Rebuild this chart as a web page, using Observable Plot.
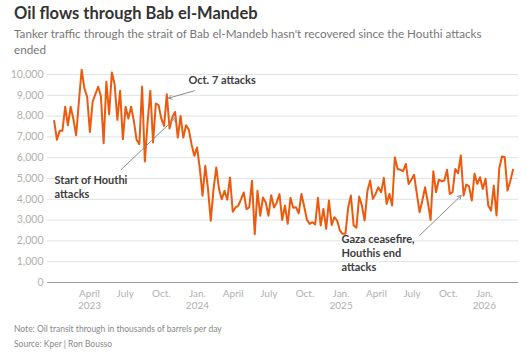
<!DOCTYPE html>
<html>
<head>
<meta charset="utf-8">
<script src="https://cdn.jsdelivr.net/npm/d3@7"></script>
<script src="https://cdn.jsdelivr.net/npm/@observablehq/plot@0.6"></script>
<style>
  html, body { margin: 0; padding: 0; background: #fff; }
  body { width: 532px; height: 353px; position: relative; overflow: hidden; font-family: Lato, "Open Sans", sans-serif; }
  #title { position: absolute; left: 14px; top: 4px; font-size: 16.5px; line-height: 19px; font-weight: 700; color: #333; white-space: nowrap; }
  #subtitle { position: absolute; left: 14px; top: 25px; width: 476px; font-size: 11.7px; line-height: 16px; color: #777; }
  #chart { position: absolute; left: 0; top: 62px; }
  #footer { position: absolute; left: 14px; top: 322px; font-size: 8.5px; line-height: 15px; color: #888; }
</style>
</head>
<body>
<div id="title">Oil flows through Bab el-Mandeb</div>
<div id="subtitle">Tanker traffic through the strait of Bab el-Mandeb hasn't recovered since the Houthi attacks ended</div>
<div id="chart"></div>
<div id="footer">Note: Oil transit through in thousands of barrels per day<br>Source: Kper | Ron Bousso</div>
<script>
// Weekly dates
const dates = [
"2023-01-01","2023-01-08","2023-01-15","2023-01-22","2023-01-29","2023-02-05","2023-02-12","2023-02-19","2023-02-26","2023-03-05","2023-03-12","2023-03-19","2023-03-26","2023-04-02","2023-04-09","2023-04-16","2023-04-23","2023-04-30","2023-05-07","2023-05-14","2023-05-21","2023-05-28","2023-06-04","2023-06-11","2023-06-18","2023-06-25","2023-07-02","2023-07-09","2023-07-16","2023-07-23","2023-07-30","2023-08-06","2023-08-13","2023-08-20","2023-08-27","2023-09-03","2023-09-10","2023-09-17","2023-09-24","2023-10-01","2023-10-08","2023-10-15","2023-10-22","2023-10-29","2023-11-05","2023-11-12","2023-11-19","2023-11-26","2023-12-03","2023-12-10","2023-12-17","2023-12-24","2023-12-31",
"2024-01-07","2024-01-14","2024-01-21","2024-01-28","2024-02-04","2024-02-11","2024-02-18","2024-02-25","2024-03-03","2024-03-10","2024-03-17","2024-03-24","2024-03-31","2024-04-07","2024-04-14","2024-04-21","2024-04-28","2024-05-05","2024-05-12","2024-05-19","2024-05-26","2024-06-02","2024-06-09","2024-06-16","2024-06-23","2024-06-30","2024-07-07","2024-07-14","2024-07-21","2024-07-28","2024-08-04","2024-08-11","2024-08-18","2024-08-25","2024-09-01","2024-09-08","2024-09-15","2024-09-22","2024-09-29","2024-10-06","2024-10-13","2024-10-20","2024-10-27","2024-11-03","2024-11-10","2024-11-17","2024-11-24","2024-12-01","2024-12-08","2024-12-15","2024-12-22","2024-12-29",
"2025-01-05","2025-01-12","2025-01-19","2025-01-26","2025-02-02","2025-02-09","2025-02-16","2025-02-23","2025-03-02","2025-03-09","2025-03-16","2025-03-23","2025-03-30","2025-04-06","2025-04-13","2025-04-20","2025-04-27","2025-05-04","2025-05-11","2025-05-18","2025-05-25","2025-06-01","2025-06-08","2025-06-15","2025-06-22","2025-06-29","2025-07-06","2025-07-13","2025-07-20","2025-07-27","2025-08-03","2025-08-10","2025-08-17","2025-08-24","2025-08-31","2025-09-07","2025-09-14","2025-09-21","2025-09-28","2025-10-05","2025-10-12","2025-10-19","2025-10-26","2025-11-02","2025-11-09","2025-11-16","2025-11-23","2025-11-30","2025-12-07","2025-12-14","2025-12-21","2025-12-28",
"2026-01-04","2026-01-11","2026-01-18","2026-01-25","2026-02-01","2026-02-08","2026-02-15","2026-02-22","2026-03-01","2026-03-08","2026-03-15"
];
// Oil transit, thousands of barrels per day
const flows = [
7770,6860,7290,7290,8450,7560,8450,7850,7080,8700,10230,9330,8930,7240,8690,9050,9410,8970,6700,9650,
8090,10100,9530,7820,9220,6890,8450,7880,8450,7770,6860,6650,9420,5820,7690,9220,6730,8600,8530,7880,
7530,9050,7400,7950,8200,6970,8010,6970,7560,7350,6650,6090,6490,5500,4170,5610,4490,2970,4490,5530,
4490,4000,4410,3980,5050,3400,3610,3690,4000,4330,3530,3610,4890,2320,4410,3210,4090,3850,3210,4200,
3610,3850,4250,3010,3700,2820,4070,3590,3620,3330,4260,3650,3010,2820,2900,2790,4070,2740,3540,2580,
3940,2770,3140,2980,2500,2340,2340,3590,4180,2740,2630,4130,3700,2980,4390,4900,4020,4260,4580,4340,
5030,3780,4260,3700,6020,5460,5420,5350,5700,4740,4940,5180,4260,3380,3940,4580,3860,3010,5350,4340,
4940,4870,4900,5420,4260,4340,5460,5250,6110,4180,4710,4620,3940,5230,4740,5060,4500,4990,3700,3460,
4660,3220,5510,6060,6020,4420,4870,5420
];
const yTicks = [0,1000,2000,3000,4000,5000,6000,7000,8000,9000,10000];
const xTicks = ["2023-04-01","2023-07-01","2023-10-01","2024-01-01","2024-04-01","2024-07-01","2024-10-01","2025-01-01","2025-04-01","2025-07-01","2025-10-01","2026-01-01"];
const xTickLabels = ["April\n2023","July","Oct.","Jan.\n2024","April","July","Oct.","Jan.\n2025","April","July","Oct.","Jan.\n2026"];
const xDomain = ["2022-12-15","2026-03-29"];

const noteDates = ["2023-12-09","2023-01-02","2025-01-02"];
const noteValues = [9760,4615,1442];
const noteTexts = ["Oct. 7 attacks","Start of Houthi\nattacks","Gaza ceasefire,\nHouthis end\nattacks"];

const arrowFromDates = ["2023-12-24","2023-06-21","2025-07-20"];
const arrowFromValues = [9216,5433,2260];
const arrowToDates = ["2023-10-19","2023-11-07","2025-11-03"];
const arrowToValues = [8860,7933,4183];

const data = dates.map((d, i) => ({date: new Date(d), value: flows[i]}));
const notes = noteTexts.map((t, i) => ({date: new Date(noteDates[i]), value: noteValues[i], text: t}));
const arrows = arrowFromDates.map((d, i) => ({x1: new Date(d), y1: arrowFromValues[i], x2: new Date(arrowToDates[i]), y2: arrowToValues[i]}));
const xt = xTicks.map(d => new Date(d));

const chart = Plot.plot({
  width: 532,
  height: 250,
  marginTop: 12,
  marginBottom: 30,
  marginLeft: 47,
  marginRight: 14,
  style: {fontFamily: "Lato, 'Open Sans', sans-serif", background: "#fff", overflow: "visible"},
  x: {type: "utc", domain: xDomain.map(d => new Date(d))},
  y: {domain: [0, 10000]},
  marks: [
    Plot.gridY(yTicks.filter(d => d > 0), {stroke: "#e2e2e2", strokeOpacity: 1, strokeWidth: 1}),
    Plot.ruleY([0], {stroke: "#9a9a9a", strokeWidth: 1.2}),
    Plot.axisY(yTicks, {tickSize: 0, tickPadding: 4, tickFormat: d3.format(","), fill: "#b0b0b0", fontSize: 10.5, label: null}),
    Plot.axisX(xt, {tickSize: 0, tickPadding: 6, tickFormat: (d, i) => xTickLabels[i], fill: "#b0b0b0", fontSize: 10, lineHeight: 1.2, label: null}),
    Plot.lineY(data, {x: "date", y: "value", stroke: "#ec5a0e", strokeWidth: 2, strokeLinejoin: "round"}),
    Plot.arrow(arrows, {x1: "x1", y1: "y1", x2: "x2", y2: "y2", stroke: "#8c8c8c", strokeWidth: 1, headLength: 6, bend: 0}),
    Plot.text(notes, {x: "date", y: "value", text: "text", textAnchor: "start", lineAnchor: "middle", fontWeight: "bold", fill: "#3d3d3d", fontSize: 11, lineHeight: 1.25})
  ]
});
document.getElementById("chart").appendChild(chart);
</script>
</body>
</html>
